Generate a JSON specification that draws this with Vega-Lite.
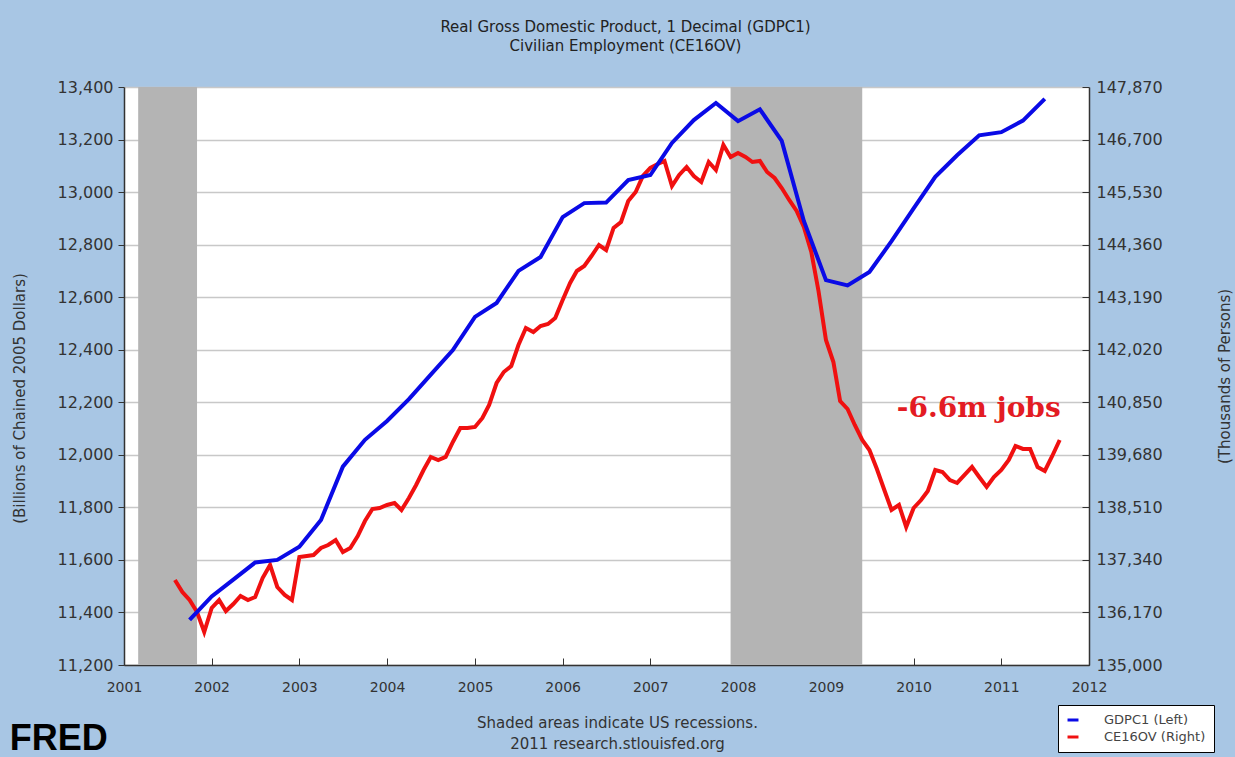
{
  "$schema": "https://vega.github.io/schema/vega-lite/v6.json",
  "width": 965,
  "height": 578,
  "autosize": {"type": "none"},
  "padding": {"left": 124, "top": 87, "right": 146, "bottom": 92},
  "background": "#a8c6e4",
  "title": {
    "text": ["Real Gross Domestic Product, 1 Decimal (GDPC1)", "Civilian Employment (CE16OV)"],
    "anchor": "middle",
    "frame": "group",
    "dx": 19,
    "offset": 25,
    "fontSize": 15,
    "font": "DejaVu Sans",
    "fontWeight": "normal",
    "color": "#222222",
    "lineHeight": 19
  },
  "datasets": {
    "recessions": [
      {"start": "2001-03-01", "end": "2001-11-01"},
      {"start": "2007-12-01", "end": "2009-06-01"}
    ],
    "gdp": [
      {"date": "2001-10-01", "gdp": 11372},
      {"date": "2002-01-01", "gdp": 11461},
      {"date": "2002-04-01", "gdp": 11525},
      {"date": "2002-07-01", "gdp": 11590},
      {"date": "2002-10-01", "gdp": 11600},
      {"date": "2003-01-01", "gdp": 11650},
      {"date": "2003-04-01", "gdp": 11752},
      {"date": "2003-07-01", "gdp": 11955},
      {"date": "2003-10-01", "gdp": 12057},
      {"date": "2004-01-01", "gdp": 12129},
      {"date": "2004-04-01", "gdp": 12212},
      {"date": "2004-07-01", "gdp": 12305},
      {"date": "2004-10-01", "gdp": 12399},
      {"date": "2005-01-01", "gdp": 12525},
      {"date": "2005-04-01", "gdp": 12578},
      {"date": "2005-07-01", "gdp": 12700},
      {"date": "2005-10-01", "gdp": 12753},
      {"date": "2006-01-01", "gdp": 12905},
      {"date": "2006-04-01", "gdp": 12958},
      {"date": "2006-07-01", "gdp": 12960},
      {"date": "2006-10-01", "gdp": 13046},
      {"date": "2007-01-01", "gdp": 13065},
      {"date": "2007-04-01", "gdp": 13187},
      {"date": "2007-07-01", "gdp": 13274},
      {"date": "2007-10-01", "gdp": 13339},
      {"date": "2008-01-01", "gdp": 13270},
      {"date": "2008-04-01", "gdp": 13315},
      {"date": "2008-07-01", "gdp": 13195},
      {"date": "2008-10-01", "gdp": 12890},
      {"date": "2009-01-01", "gdp": 12665},
      {"date": "2009-04-01", "gdp": 12645},
      {"date": "2009-07-01", "gdp": 12696},
      {"date": "2009-10-01", "gdp": 12813},
      {"date": "2010-01-01", "gdp": 12938},
      {"date": "2010-04-01", "gdp": 13058},
      {"date": "2010-07-01", "gdp": 13140},
      {"date": "2010-10-01", "gdp": 13216},
      {"date": "2011-01-01", "gdp": 13228},
      {"date": "2011-04-01", "gdp": 13272},
      {"date": "2011-07-01", "gdp": 13355}
    ],
    "emp": [
      {"date": "2001-08-01", "emp": 136893},
      {"date": "2001-09-01", "emp": 136626},
      {"date": "2001-10-01", "emp": 136447},
      {"date": "2001-11-01", "emp": 136180},
      {"date": "2001-12-01", "emp": 135735},
      {"date": "2002-01-01", "emp": 136269},
      {"date": "2002-02-01", "emp": 136447},
      {"date": "2002-03-01", "emp": 136202},
      {"date": "2002-04-01", "emp": 136358},
      {"date": "2002-05-01", "emp": 136536},
      {"date": "2002-06-01", "emp": 136447},
      {"date": "2002-07-01", "emp": 136514},
      {"date": "2002-08-01", "emp": 136937},
      {"date": "2002-09-01", "emp": 137227},
      {"date": "2002-10-01", "emp": 136737},
      {"date": "2002-11-01", "emp": 136559},
      {"date": "2002-12-01", "emp": 136447},
      {"date": "2003-01-01", "emp": 137405},
      {"date": "2003-02-01", "emp": 137427},
      {"date": "2003-03-01", "emp": 137449},
      {"date": "2003-04-01", "emp": 137605},
      {"date": "2003-05-01", "emp": 137672},
      {"date": "2003-06-01", "emp": 137783},
      {"date": "2003-07-01", "emp": 137516},
      {"date": "2003-08-01", "emp": 137605},
      {"date": "2003-09-01", "emp": 137872},
      {"date": "2003-10-01", "emp": 138206},
      {"date": "2003-11-01", "emp": 138474},
      {"date": "2003-12-01", "emp": 138496},
      {"date": "2004-01-01", "emp": 138563},
      {"date": "2004-02-01", "emp": 138607},
      {"date": "2004-03-01", "emp": 138451},
      {"date": "2004-04-01", "emp": 138719},
      {"date": "2004-05-01", "emp": 139008},
      {"date": "2004-06-01", "emp": 139342},
      {"date": "2004-07-01", "emp": 139632},
      {"date": "2004-08-01", "emp": 139565},
      {"date": "2004-09-01", "emp": 139632},
      {"date": "2004-10-01", "emp": 139966},
      {"date": "2004-11-01", "emp": 140277},
      {"date": "2004-12-01", "emp": 140277},
      {"date": "2005-01-01", "emp": 140300},
      {"date": "2005-02-01", "emp": 140500},
      {"date": "2005-03-01", "emp": 140789},
      {"date": "2005-04-01", "emp": 141279},
      {"date": "2005-05-01", "emp": 141524},
      {"date": "2005-06-01", "emp": 141658},
      {"date": "2005-07-01", "emp": 142125},
      {"date": "2005-08-01", "emp": 142504},
      {"date": "2005-09-01", "emp": 142415},
      {"date": "2005-10-01", "emp": 142549},
      {"date": "2005-11-01", "emp": 142593},
      {"date": "2005-12-01", "emp": 142727},
      {"date": "2006-01-01", "emp": 143127},
      {"date": "2006-02-01", "emp": 143506},
      {"date": "2006-03-01", "emp": 143773},
      {"date": "2006-04-01", "emp": 143885},
      {"date": "2006-05-01", "emp": 144107},
      {"date": "2006-06-01", "emp": 144352},
      {"date": "2006-07-01", "emp": 144241},
      {"date": "2006-08-01", "emp": 144731},
      {"date": "2006-09-01", "emp": 144864},
      {"date": "2006-10-01", "emp": 145332},
      {"date": "2006-11-01", "emp": 145532},
      {"date": "2006-12-01", "emp": 145889},
      {"date": "2007-01-01", "emp": 146067},
      {"date": "2007-02-01", "emp": 146156},
      {"date": "2007-03-01", "emp": 146223},
      {"date": "2007-04-01", "emp": 145666},
      {"date": "2007-05-01", "emp": 145911},
      {"date": "2007-06-01", "emp": 146089},
      {"date": "2007-07-01", "emp": 145889},
      {"date": "2007-08-01", "emp": 145755},
      {"date": "2007-09-01", "emp": 146200},
      {"date": "2007-10-01", "emp": 146022},
      {"date": "2007-11-01", "emp": 146579},
      {"date": "2007-12-01", "emp": 146312},
      {"date": "2008-01-01", "emp": 146401},
      {"date": "2008-02-01", "emp": 146312},
      {"date": "2008-03-01", "emp": 146200},
      {"date": "2008-04-01", "emp": 146223},
      {"date": "2008-05-01", "emp": 145978},
      {"date": "2008-06-01", "emp": 145844},
      {"date": "2008-07-01", "emp": 145621},
      {"date": "2008-08-01", "emp": 145354},
      {"date": "2008-09-01", "emp": 145109},
      {"date": "2008-10-01", "emp": 144753},
      {"date": "2008-11-01", "emp": 144196},
      {"date": "2008-12-01", "emp": 143328},
      {"date": "2009-01-01", "emp": 142237},
      {"date": "2009-02-01", "emp": 141747},
      {"date": "2009-03-01", "emp": 140878},
      {"date": "2009-04-01", "emp": 140700},
      {"date": "2009-05-01", "emp": 140344},
      {"date": "2009-06-01", "emp": 140010},
      {"date": "2009-07-01", "emp": 139787},
      {"date": "2009-08-01", "emp": 139364},
      {"date": "2009-09-01", "emp": 138897},
      {"date": "2009-10-01", "emp": 138451},
      {"date": "2009-11-01", "emp": 138563},
      {"date": "2009-12-01", "emp": 138073},
      {"date": "2010-01-01", "emp": 138496},
      {"date": "2010-02-01", "emp": 138674},
      {"date": "2010-03-01", "emp": 138874},
      {"date": "2010-04-01", "emp": 139342},
      {"date": "2010-05-01", "emp": 139298},
      {"date": "2010-06-01", "emp": 139119},
      {"date": "2010-07-01", "emp": 139053},
      {"date": "2010-08-01", "emp": 139231},
      {"date": "2010-09-01", "emp": 139409},
      {"date": "2010-10-01", "emp": 139186},
      {"date": "2010-11-01", "emp": 138964},
      {"date": "2010-12-01", "emp": 139186},
      {"date": "2011-01-01", "emp": 139342},
      {"date": "2011-02-01", "emp": 139565},
      {"date": "2011-03-01", "emp": 139876},
      {"date": "2011-04-01", "emp": 139810},
      {"date": "2011-05-01", "emp": 139810},
      {"date": "2011-06-01", "emp": 139409},
      {"date": "2011-07-01", "emp": 139320},
      {"date": "2011-08-01", "emp": 139654},
      {"date": "2011-09-01", "emp": 140010}
    ],
    "note": [
      {"date": "2010-09-29", "emp": 140522, "label": "-6.6m jobs"}
    ],
    "logo": [
      {"date": "1999-09-13", "gdp": 10876, "label": "FRED"}
    ]
  },
  "layer": [
    {
      "layer": [
        {
          "data": {"name": "recessions"},
          "mark": {"type": "rect", "color": "#b4b4b4"},
          "encoding": {
            "x": {"field": "start", "type": "temporal"},
            "x2": {"field": "end"}
          }
        },
        {
          "data": {"name": "emp"},
          "mark": {"type": "line", "strokeWidth": 4, "interpolate": "linear"},
          "encoding": {
            "x": {"field": "date", "type": "temporal"},
            "y": {"field": "emp", "type": "quantitative"},
            "color": {"datum": "CE16OV (Right)", "scale": {"domain": ["GDPC1 (Left)", "CE16OV (Right)"], "range": ["#0a0ae6", "#f01010"]}}
          }
        },
        {
          "data": {"name": "note"},
          "mark": {"type": "text", "font": "DejaVu Serif", "fontWeight": "bold", "fontSize": 28, "color": "#e31b23", "align": "center", "baseline": "alphabetic"},
          "encoding": {
            "x": {"field": "date", "type": "temporal"},
            "y": {"field": "emp", "type": "quantitative"},
            "text": {"field": "label"}
          }
        }
      ],
      "encoding": {
        "y": {
          "type": "quantitative",
          "scale": {"domain": [135000, 147870], "nice": false, "zero": false},
          "axis": {
            "orient": "right",
            "values": [135000, 136170, 137340, 138510, 139680, 140850, 142020, 143190, 144360, 145530, 146700, 147870],
            "format": ",.0f",
            "grid": false,
            "tickSize": -7,
            "labelPadding": 14,
            "title": "(Thousands of Persons)",
            "titleAngle": 270,
            "titlePadding": 70
          }
        }
      }
    },
    {
      "layer": [
        {
          "data": {"name": "gdp"},
          "mark": {"type": "line", "strokeWidth": 4, "interpolate": "linear"},
          "encoding": {
            "x": {"field": "date", "type": "temporal"},
            "y": {"field": "gdp", "type": "quantitative"},
            "color": {"datum": "GDPC1 (Left)", "scale": {"domain": ["GDPC1 (Left)", "CE16OV (Right)"], "range": ["#0a0ae6", "#f01010"]}}
          }
        },
        {
          "data": {"name": "logo"},
          "mark": {"type": "text", "font": "Liberation Sans", "fontWeight": "bold", "fontSize": 36, "color": "#000000", "align": "left", "baseline": "alphabetic"},
          "encoding": {
            "x": {"field": "date", "type": "temporal"},
            "y": {"field": "gdp", "type": "quantitative"},
            "text": {"field": "label"}
          }
        }
      ],
      "encoding": {
        "y": {
          "type": "quantitative",
          "scale": {"domain": [11200, 13400], "nice": false, "zero": false},
          "axis": {
            "orient": "left",
            "values": [11200, 11400, 11600, 11800, 12000, 12200, 12400, 12600, 12800, 13000, 13200, 13400],
            "format": ",.0f",
            "grid": true,
            "gridColor": "#c8c8c8",
            "gridWidth": 1.5,
            "tickSize": 6,
            "labelPadding": 5,
            "title": "(Billions of Chained 2005 Dollars)",
            "titleY": 311,
            "titlePadding": 30
          }
        }
      }
    }
  ],
  "encoding": {
    "x": {
      "type": "temporal",
      "scale": {"type": "utc", "domain": [{"year": 2001, "month": 1, "date": 1, "utc": true}, {"year": 2012, "month": 1, "date": 1, "utc": true}]},
      "axis": {
        "format": "%Y",
        "values": [
          {"year": 2001, "utc": true}, {"year": 2002, "utc": true}, {"year": 2003, "utc": true}, {"year": 2004, "utc": true},
          {"year": 2005, "utc": true}, {"year": 2006, "utc": true}, {"year": 2007, "utc": true}, {"year": 2008, "utc": true},
          {"year": 2009, "utc": true}, {"year": 2010, "utc": true}, {"year": 2011, "utc": true}, {"year": 2012, "utc": true}
        ],
        "grid": false,
        "tickSize": -7,
        "labelPadding": 22,
        "labelFontSize": 14,
        "labelFlush": false,
        "labelOverlap": false,
        "title": ["Shaded areas indicate US recessions.", "2011 research.stlouisfed.org"],
        "titleX": 493,
        "titleY": 50,
        "titleBaseline": "top",
        "titleLineHeight": 21
      }
    }
  },
  "resolve": {"scale": {"y": "independent"}},
  "config": {
    "font": "DejaVu Sans",
    "view": {"stroke": null, "fill": "#ffffff"},
    "axis": {
      "labelFont": "DejaVu Sans",
      "titleFont": "DejaVu Sans",
      "labelFontSize": 16,
      "titleFontSize": 15,
      "titleFontWeight": "normal",
      "labelColor": "#333333",
      "titleColor": "#333333",
      "domainColor": "#333333",
      "domainWidth": 1.5,
      "tickColor": "#333333"
    },
    "legend": {
      "orient": "none",
      "legendX": 934,
      "legendY": 618,
      "direction": "vertical",
      "title": null,
      "fillColor": "#ffffff",
      "strokeColor": "#000000",
      "padding": 8,
      "labelFont": "DejaVu Sans",
      "labelFontSize": 13,
      "labelColor": "#444444",
      "labelOffset": 24,
      "symbolType": "stroke",
      "symbolStrokeWidth": 3,
      "symbolSize": 120,
      "rowPadding": 3
    }
  }
}
